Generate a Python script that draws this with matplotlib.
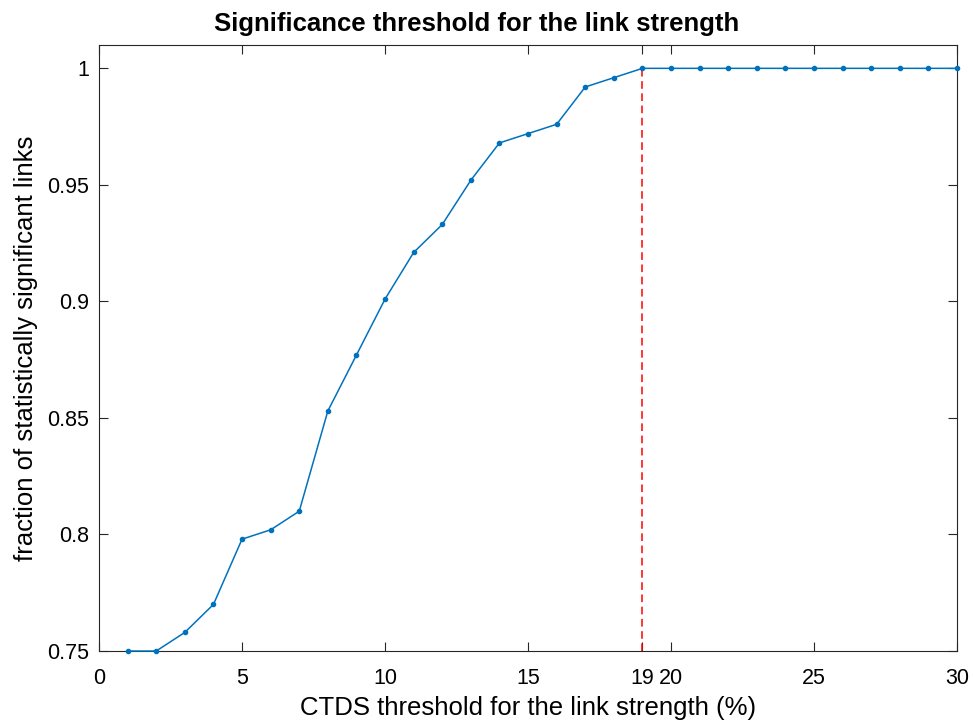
import matplotlib
matplotlib.use("Agg")
from matplotlib import pyplot as plt
import numpy as np

thresholds = np.arange(1, 31)
fraction = [0.750, 0.750, 0.758, 0.770, 0.798, 0.802, 0.810, 0.853, 0.877, 0.901,
            0.921, 0.933, 0.952, 0.968, 0.972, 0.976, 0.992, 0.996, 1.0, 1.0,
            1.0, 1.0, 1.0, 1.0, 1.0, 1.0, 1.0, 1.0, 1.0, 1.0]
cutoff = 19
xticks = [0, 5, 10, 15, 19, 20, 25, 30]
yticks = [0.75, 0.8, 0.85, 0.9, 0.95, 1.0]
ytick_labels = ["0.75", "0.8", "0.85", "0.9", "0.95", "1"]

plt.rcParams["font.family"] = ["Liberation Sans", "DejaVu Sans"]
axis_color = "#262626"

fig = plt.figure(figsize=(9.73, 7.24), dpi=100)
ax = fig.add_axes([0.1018, 0.1008, 0.8818, 0.837])

ax.plot(thresholds, fraction, color="#0072BD", linewidth=1.1,
        marker=".", markersize=6, clip_on=False, zorder=3)
ax.plot([cutoff, cutoff], [0.75, 1.0], color="#FF0000", linestyle=(0, (5, 3)),
        linewidth=1.1, zorder=2)

ax.set_xlim(0, 30)
ax.set_ylim(0.75, 1.01)
ax.set_xticks(xticks)
ax.set_xticklabels([str(t) for t in xticks], size=15.5)
ax.set_yticks(yticks)
ax.set_yticklabels(ytick_labels, size=15.5)
ax.tick_params(direction="in", length=6.5, width=0.8, color=axis_color,
               top=True, right=True)
ax.tick_params(axis="x", pad=12)
ax.tick_params(axis="y", pad=7)
for side in ax.spines.values():
    side.set_color(axis_color)
    side.set_linewidth(0.8)

ax.set_xlabel("CTDS threshold for the link strength (%)", size=18.5, labelpad=5)
ax.set_ylabel("fraction of statistically significant links", size=18.5, labelpad=7)
ax.set_title("Significance threshold for the link strength", size=18.5,
             fontweight="bold", pad=10, x=0.44)

fig.savefig("out.png", dpi=100)
